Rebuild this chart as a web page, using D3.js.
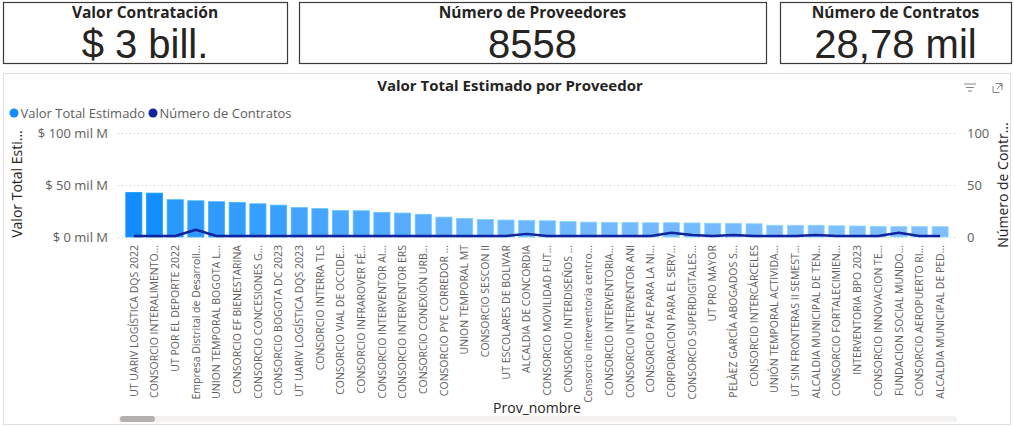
<!DOCTYPE html>
<html>
<head>
<meta charset="utf-8">
<script src="https://cdn.jsdelivr.net/npm/d3@7"></script>
<style>
    body { margin: 0; background: #ffffff; }
    svg { display: block; }
</style>
</head>
<body>
<div id="chart"></div>
<script>

const cardTitles = ["Valor Contratación", "Número de Proveedores", "Número de Contratos"];
const cardValues = ["$ 3 bill.", "8558", "28,78 mil"];

const proveedores = [
    "UT UARIV LOGÍSTICA DQS 2022", "CONSORCIO INTERALIMENTO...", "UT POR EL DEPORTE 2022",
    "Empresa Distrital de Desarroll...", "UNION TEMPORAL BOGOTA L...", "CONSORCIO EF BIENESTARINA",
    "CONSORCIO CONCESIONES G...", "CONSORCIO BOGOTA DC 2023", "UT UARIV LOGÍSTICA DQS 2023",
    "CONSORCIO INTERRA TLS", "CONSORCIO VIAL DE OCCIDE...", "CONSORCIO INFRAROVER FÉ...",
    "CONSORCIO INTERVENTOR AI...", "CONSORCIO INTERVENTOR ERS", "CONSORCIO CONEXIÓN URB...",
    "CONSORCIO PYE CORREDOR ...", "UNION TEMPORAL MT", "CONSORCIO SESCON II",
    "UT ESCOLARES DE BOLIVAR", "ALCALDIA DE CONCORDIA", "CONSORCIO MOVILIDAD FUT...",
    "CONSORCIO INTERDISEÑOS ...", "Consorcio interventoría centro...", "CONSORCIO INTERVENTORIA...",
    "CONSORCIO INTERVENTOR ANI", "CONSORCIO PAE PARA LA NI...", "CORPORACION PARA EL SERV...",
    "CONSORCIO SUPERDIGITALES...", "UT PRO MAYOR", "PELÀEZ GARCÍA ABOGADOS S...",
    "CONSORCIO INTERCÁRCELES", "UNIÓN TEMPORAL ACTIVIDA...", "UT SIN FRONTERAS II SEMEST...",
    "ALCALDIA MUNICIPAL DE TEN...", "CONSORCIO FORTALECIMIEN...", "INTERVENTORIA BPO 2023",
    "CONSORCIO INNOVACION TE...", "FUNDACION SOCIAL MUNDO...", "CONSORCIO AEROPUERTO RI...",
    "ALCALDIA MUNICIPAL DE PED..."
];

// miles de millones
const valorTotal = [
    42.9, 42.2, 35.8, 34.8, 33.9, 33.2, 31.9, 30.6, 28.2, 27.2,
    25.3, 25.2, 23.6, 23.0, 21.8, 19.1, 17.8, 16.8, 16.3, 15.9,
    15.6, 14.9, 14.3, 14.0, 14.0, 13.7, 13.7, 13.5, 13.2, 13.1,
    12.7, 11.3, 11.3, 11.3, 10.8, 10.6, 10.3, 10.0, 10.0, 10.0
];

const numContratos = [
    1, 1, 1, 7, 1, 1, 1, 1, 1, 1,
    1, 1, 1, 1, 1, 1, 1, 1, 1, 3,
    1, 1, 1, 1, 1, 1, 4, 2, 1, 2,
    1, 1, 1, 2, 1, 1, 1, 4, 1, 1
];

const leftTicks = [0, 50, 100];
const leftTickLabels = ["$ 0 mil M", "$ 50 mil M", "$ 100 mil M"];
const rightTicks = [0, 50, 100];

const props = {
    width: 1014,
    height: 427,
    font: "'Open Sans', 'Noto Sans', sans-serif",
    valueFont: "'Liberation Sans', Arial, sans-serif",
    text: "#605E5C",
    dark: "#252423",
    barLight: "#80BFFF",
    barDark: "#118DFF",
    line: "#12239E",
    grid: "#C8C6C4"
};

const svg = d3.select("#chart").append("svg")
    .attr("width", props.width)
    .attr("height", props.height)
    .style("font-family", props.font);

// cards
const cards = [
    {x: 3, w: 284},
    {x: 299, w: 467},
    {x: 780, w: 231}
];

const cardGroup = svg.selectAll(".card")
    .data(cards)
    .join("g")
    .attr("class", "card")
    .attr("transform", (d) => `translate(${d.x},2)`);

cardGroup.append("rect")
    .attr("x", 0.5).attr("y", 0.5)
    .attr("width", (d) => d.w).attr("height", 61)
    .attr("fill", "#ffffff")
    .attr("stroke", "#3b3a39")
    .attr("stroke-width", 1.2);

cardGroup.append("text")
    .attr("x", (d) => d.w / 2)
    .attr("y", 16)
    .attr("text-anchor", "middle")
    .attr("font-size", 15.5)
    .attr("font-weight", 700)
    .attr("fill", props.dark)
    .text((d, i) => cardTitles[i]);

cardGroup.append("text")
    .attr("x", (d) => d.w / 2)
    .attr("y", 56)
    .attr("text-anchor", "middle")
    .attr("font-size", 40)
    .attr("font-weight", 400)
    .attr("fill", props.dark)
    .style("font-family", props.valueFont)
    .text((d, i) => cardValues[i]);

// chart panel
svg.append("rect")
    .attr("x", 3.5).attr("y", 73.5)
    .attr("width", 1007).attr("height", 351)
    .attr("fill", "#ffffff")
    .attr("stroke", "#E1DFDD");

svg.append("text")
    .attr("x", 510).attr("y", 91)
    .attr("text-anchor", "middle")
    .attr("font-size", 15)
    .attr("font-weight", 700)
    .attr("fill", props.dark)
    .text("Valor Total Estimado por Proveedor");

// header icons (filter + focus)
const icons = svg.append("g").attr("stroke", "#8a8886").attr("fill", "none").attr("stroke-width", 1);
[[964, 976], [966, 974], [968, 972]].forEach(([a, b], i) => {
    icons.append("line").attr("x1", a).attr("x2", b).attr("y1", 84 + i * 3.5).attr("y2", 84 + i * 3.5);
});
icons.append("path").attr("d", "M993,86 v6.5 h6.5 M995.5,83.5 h6.5 v6.5 M997,89 l5,-5 M999,84 h3 v3");

// legend
const legendItems = [
    {label: "Valor Total Estimado", color: props.barDark, x: 14},
    {label: "Número de Contratos", color: props.line, x: 153}
];
const legend = svg.selectAll(".legendItem")
    .data(legendItems)
    .join("g")
    .attr("class", "legendItem")
    .attr("transform", (d) => `translate(${d.x},113)`);
legend.append("circle").attr("r", 4.5).attr("fill", (d) => d.color);
legend.append("text")
    .attr("x", 6.5).attr("dy", "0.35em")
    .attr("font-size", 13)
    .attr("fill", props.text)
    .text((d) => d.label);

// scales
const x = d3.scaleBand()
    .domain(proveedores)
    .range([123.5, 950.5])
    .paddingInner(0.22)
    .paddingOuter(0.11);

const yLeft = d3.scaleLinear().domain([0, 100]).range([237, 133]);
const yRight = d3.scaleLinear().domain([0, 100]).range([237, 133]);

const color = d3.scaleLinear()
    .domain(d3.extent(valorTotal))
    .range([props.barLight, props.barDark]);

// gridlines
svg.append("g")
    .selectAll("line")
    .data(leftTicks)
    .join("line")
    .attr("x1", 118).attr("x2", 957)
    .attr("y1", (d) => yLeft(d) + 0.5).attr("y2", (d) => yLeft(d) + 0.5)
    .attr("stroke", props.grid)
    .attr("stroke-dasharray", "1,3");

// left axis
const leftAxis = svg.append("g")
    .attr("transform", "translate(108,0)")
    .call(d3.axisLeft(yLeft).tickValues(leftTicks).tickSize(0).tickPadding(0)
        .tickFormat((d, i) => leftTickLabels[i]));
leftAxis.select(".domain").remove();
leftAxis.selectAll("text").attr("font-size", 13).attr("fill", props.text).style("font-family", props.font);

// right axis
const rightAxis = svg.append("g")
    .attr("transform", "translate(967,0)")
    .call(d3.axisRight(yRight).tickValues(rightTicks).tickSize(0).tickPadding(0));
rightAxis.select(".domain").remove();
rightAxis.selectAll("text").attr("font-size", 13).attr("fill", props.text).style("font-family", props.font);

// axis titles
svg.append("text")
    .attr("transform", "translate(22,184) rotate(-90)")
    .attr("text-anchor", "middle")
    .attr("font-size", 14)
    .attr("fill", props.dark)
    .text("Valor Total Esti...");

svg.append("text")
    .attr("transform", "translate(1008,185) rotate(-90)")
    .attr("text-anchor", "middle")
    .attr("font-size", 14)
    .attr("fill", props.dark)
    .text("Número de Contr...");

// bars
svg.append("g")
    .selectAll("rect")
    .data(proveedores)
    .join("rect")
    .attr("x", (d) => x(d))
    .attr("width", x.bandwidth())
    .attr("y", (d, i) => yLeft(valorTotal[i]))
    .attr("height", (d, i) => yLeft(0) - yLeft(valorTotal[i]))
    .attr("fill", (d, i) => color(valorTotal[i]))
    .attr("stroke", (d, i) => d3.color(color(valorTotal[i])).brighter(0.4))
    .attr("stroke-width", 0.8);

// line
const line = d3.line()
    .x((d, i) => x(proveedores[i]) + x.bandwidth() / 2)
    .y((d) => yRight(d));

svg.append("path")
    .datum(numContratos)
    .attr("d", line)
    .attr("fill", "none")
    .attr("stroke", props.line)
    .attr("stroke-width", 2.5)
    .attr("stroke-linejoin", "round");

// x axis labels
const xAxis = svg.append("g")
    .attr("transform", "translate(0,242)")
    .call(d3.axisBottom(x).tickSize(0).tickPadding(0));
xAxis.select(".domain").remove();
xAxis.selectAll("text")
    .attr("transform", "rotate(-90)")
    .attr("x", -3)
    .attr("y", 0)
    .attr("dy", "0.35em")
    .attr("text-anchor", "end")
    .attr("font-size", 10.5)
    .attr("fill", props.text)
    .style("font-family", props.font);

svg.append("text")
    .attr("x", 537).attr("y", 413)
    .attr("text-anchor", "middle")
    .attr("font-size", 14)
    .attr("fill", props.dark)
    .text("Prov_nombre");

// scrollbar
svg.append("rect")
    .attr("x", 118).attr("y", 416)
    .attr("width", 839).attr("height", 6)
    .attr("rx", 3)
    .attr("fill", "#F3F2F1");
svg.append("rect")
    .attr("x", 120).attr("y", 416)
    .attr("width", 35).attr("height", 6)
    .attr("rx", 3)
    .attr("fill", "#B3B0AD");

</script>
</body>
</html>
